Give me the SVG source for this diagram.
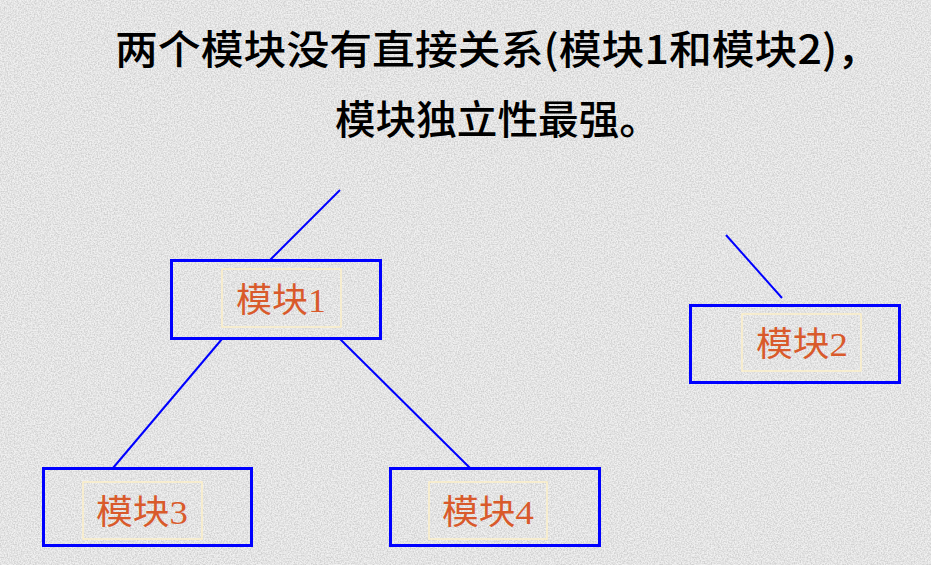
<svg xmlns="http://www.w3.org/2000/svg" width="931" height="565" viewBox="0 0 931 565">
<defs>
<filter id="noise" x="0" y="0" width="100%" height="100%">
<feTurbulence type="fractalNoise" baseFrequency="0.7" numOctaves="2" seed="3" result="t"/>
<feColorMatrix in="t" type="matrix" values="0 0 0 0 0.5  0 0 0 0 0.5  0 0 0 0 0.5  0 0 0 -2.2 1.5"/>
</filter>
<style>
.title{font-family:"Noto Sans CJK SC","Liberation Serif",serif;font-size:40px;font-weight:500;fill:#000;}
.node{fill:none;stroke:#0000ff;stroke-width:3;}
.lab{fill:none;stroke:#fdf0c8;stroke-width:1.5;}
.txt{font-family:"Liberation Serif","Noto Sans CJK SC",serif;font-size:34px;fill:#d95a2b;text-anchor:middle;}
.conn line{stroke:#0000ff;stroke-width:2;}
</style>
</defs>
<rect width="931" height="565" fill="#f0f0f0"/>
<rect width="931" height="565" filter="url(#noise)" opacity="0.6"/>
<text class="title" x="115" y="64" textLength="765" lengthAdjust="spacingAndGlyphs">两个模块没有直接关系(模块1和模块2)，</text>
<text class="title" x="335" y="134" textLength="325" lengthAdjust="spacingAndGlyphs">模块独立性最强。</text>
<g id="connectors" class="conn">
<line x1="340" y1="190" x2="270" y2="260"/>
<line x1="222" y1="339" x2="113" y2="468"/>
<line x1="340" y1="339" x2="470" y2="468"/>
<line x1="726" y1="235" x2="782" y2="298"/>
</g>
<g id="node1">
<rect class="node" x="171.5" y="260.5" width="209" height="78"/>
<rect class="lab" x="222" y="269" width="119" height="58"/>
<text class="txt" x="281" y="312" textLength="90" lengthAdjust="spacingAndGlyphs">模块1</text>
</g>
<g id="node2">
<rect class="node" x="690.5" y="305.5" width="209" height="77"/>
<rect class="lab" x="742" y="314" width="119" height="57"/>
<text class="txt" x="802" y="356" textLength="92" lengthAdjust="spacingAndGlyphs">模块2</text>
</g>
<g id="node3">
<rect class="node" x="43.5" y="468.5" width="208" height="77"/>
<rect class="lab" x="83" y="482" width="119" height="57"/>
<text class="txt" x="142" y="524" textLength="92" lengthAdjust="spacingAndGlyphs">模块3</text>
</g>
<g id="node4">
<rect class="node" x="390.5" y="468.5" width="209" height="77"/>
<rect class="lab" x="429" y="482" width="118" height="57"/>
<text class="txt" x="488" y="524" textLength="92" lengthAdjust="spacingAndGlyphs">模块4</text>
</g>
</svg>
